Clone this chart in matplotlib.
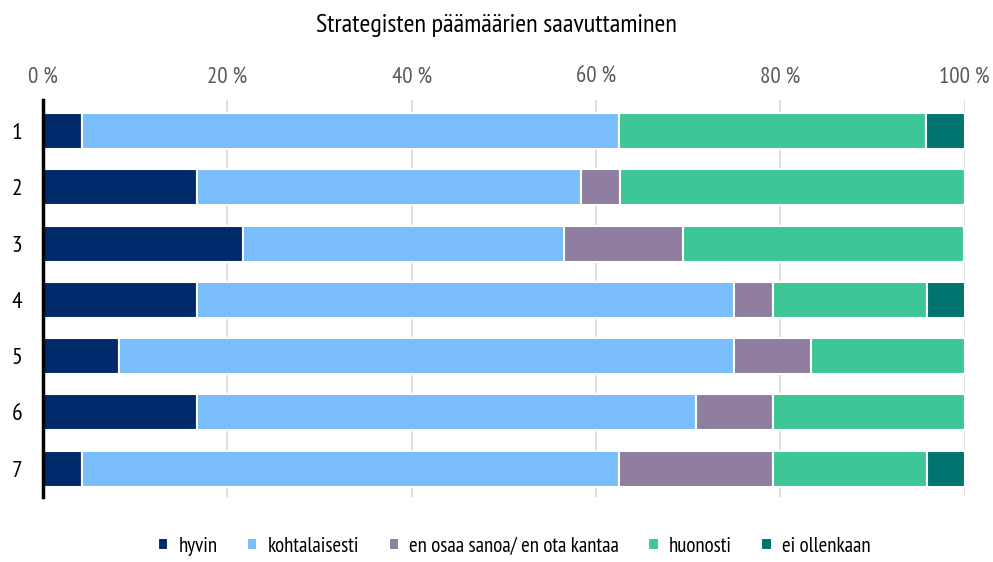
import numpy as np
import matplotlib
matplotlib.use("Agg")
import matplotlib.pyplot as plt

plt.rcParams['font.family'] = ['PT Sans Narrow', 'Roboto Condensed', 'DejaVu Sans']

rows = ["1", "2", "3", "4", "5", "6", "7"]
categories = ["hyvin", "kohtalaisesti", "en osaa sanoa/ en ota kantaa", "huonosti", "ei ollenkaan"]
hyvin = [4.2, 16.7, 21.7, 16.7, 8.3, 16.7, 4.2]
kohtalaisesti = [58.3, 41.7, 34.8, 58.3, 66.7, 54.2, 58.3]
en_osaa = [0.0, 4.2, 13.0, 4.2, 8.3, 8.3, 16.7]
huonosti = [33.3, 37.5, 30.4, 16.7, 16.7, 20.8, 16.7]
ei_ollenkaan = [4.2, 0.0, 0.0, 4.2, 0.0, 0.0, 4.2]
colors = ["#002a6c", "#79bdfd", "#8f7e9f", "#3ec796", "#007470"]

series = [hyvin, kohtalaisesti, en_osaa, huonosti, ei_ollenkaan]

fig = plt.figure(figsize=(9.93, 5.62), dpi=100)
ax = fig.add_axes([0.0433, 0.116, 0.928, 0.706])

y = np.arange(len(rows))
left = np.zeros(len(rows))
for vals, name, c in zip(series, categories, colors):
    vals = np.array(vals)
    ax.barh(y, vals, left=left, height=0.64, color=c, edgecolor="white",
            linewidth=1.5, label=name, zorder=3)
    left += vals

ax.set_xlim(0, 100)
ax.set_ylim(len(rows) - 0.5, -0.55)
ax.set_yticks(y)
ax.set_yticklabels(rows, fontsize=17)
ax.set_xticks(np.arange(0, 101, 20))
ax.set_xticklabels([f"{v} %" for v in range(0, 101, 20)], fontsize=16.5, color="#595959")
ax.xaxis.tick_top()
ax.tick_params(axis="x", length=0, pad=9)
ax.tick_params(axis="y", length=0, pad=15)
ax.grid(axis="x", color="#d9d9d9", linewidth=1.2, zorder=0)
for s in ["top", "right", "bottom"]:
    ax.spines[s].set_visible(False)
ax.spines["left"].set_linewidth(2.5)
ax.spines["left"].set_color("black")
ax.spines["left"].set_zorder(5)

fig.suptitle("Strategisten päämäärien saavuttaminen", fontsize=19, y=0.975)
fig.legend(loc="lower center", ncol=5, frameon=False, fontsize=15,
           handlelength=0.5, handleheight=0.5, handletextpad=0.5,
           columnspacing=1.4, bbox_to_anchor=(0.518, -0.022))

fig.savefig("out.png", dpi=100)
